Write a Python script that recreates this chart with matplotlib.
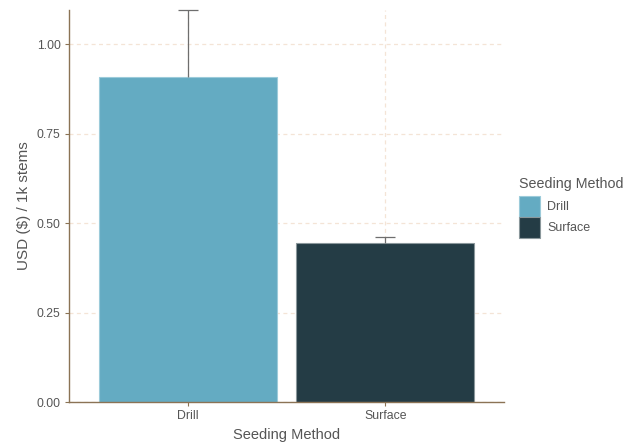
import matplotlib
matplotlib.use("Agg")
import matplotlib.pyplot as plt
from matplotlib.patches import Rectangle

plt.rcParams['font.family'] = ['Liberation Sans', 'DejaVu Sans']

methods = ["Drill", "Surface"]
cost = [0.909, 0.443]
err_upper = [0.186, 0.019]
colors = ["#64ABC2", "#243C45"]
edges = ["#9CCBDA", "#8A979B"]
y_ticks = [0.00, 0.25, 0.50, 0.75, 1.00]

W, H = 636, 444
fig = plt.figure(figsize=(W / 100, H / 100), dpi=100)
ax = fig.add_axes([69 / W, 1 - 402 / H, (504 - 69) / W, (402 - 10) / H])

x = list(range(1, len(methods) + 1))
ax.set_axisbelow(True)
grid_kw = dict(color="#F4E4D6", lw=0.9, ls=(0, (3.2, 2.7)), zorder=0)
for yt in y_ticks:
    ax.axhline(yt, **grid_kw)
for xt in x:
    ax.axvline(xt, **grid_kw)

ax.bar(x, cost, width=0.9, color=colors, edgecolor=edges, linewidth=0.8, zorder=2)

# upper-only error bars with a cap at the top
tops = [c + e for c, e in zip(cost, err_upper)]
ax.vlines(x, cost, tops, color="#6E6E6E", lw=0.9, zorder=3)
ax.hlines(tops, [xi - 0.05 for xi in x], [xi + 0.05 for xi in x],
          color="#6E6E6E", lw=0.9, zorder=3, clip_on=False)

ax.set_xlim(0.4, 2.6)
ax.set_ylim(0, 1.095)
ax.set_xticks(x)
ax.set_xticklabels(methods)
ax.set_yticks(y_ticks)
ax.set_yticklabels([f"{v:.2f}" for v in y_ticks])

for side in ["top", "right"]:
    ax.spines[side].set_visible(False)
for side in ["left", "bottom"]:
    ax.spines[side].set_color("#8B7355")
    ax.spines[side].set_linewidth(1.0)
ax.tick_params(axis="both", colors="#8B7355", labelcolor="#555555",
               labelsize=8.8, length=3, width=0.8, pad=3)

ax.set_xlabel("Seeding Method", fontsize=10.5, color="#555555", labelpad=4)
ax.set_ylabel("USD ($) / 1k stems", fontsize=11, color="#555555", labelpad=4)

# legend drawn in figure pixel coordinates
fig.text(519 / W, 1 - 188 / H, "Seeding Method", fontsize=10.3,
         color="#555555", va="baseline", ha="left")
key_w, key_h = 21, 21
for i, (name, c, e) in enumerate(zip(methods, colors, edges)):
    top = 196 + i * key_h
    fig.patches.append(Rectangle((519 / W, 1 - (top + key_h) / H), key_w / W, key_h / H,
                                 transform=fig.transFigure, facecolor=c,
                                 edgecolor=e, linewidth=0.8))
    fig.text(547 / W, 1 - (top + key_h / 2) / H, name, fontsize=9,
             color="#555555", va="center", ha="left")

fig.savefig("out.png", dpi=100)
